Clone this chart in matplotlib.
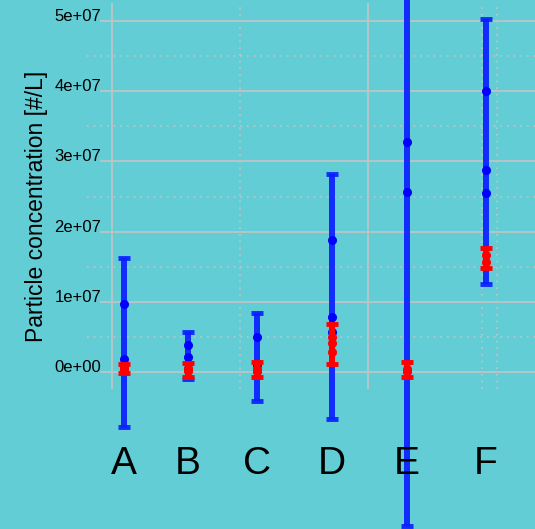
import numpy as np
import matplotlib
matplotlib.use("Agg")
import matplotlib.pyplot as plt

plt.rcParams['font.family'] = ['Liberation Sans', 'DejaVu Sans']

# ---------- datos ----------
categorias = ["A", "B", "C", "D", "E", "F"]

# barras azules: puntos individuales y extremos de la barra
azul_puntos = [[0.97e7, 0.185e7, 0.05e7],
               [0.38e7, 0.21e7, 0.05e7],
               [0.50e7, 0.10e7, 0.02e7],
               [1.88e7, 0.78e7, 0.57e7],
               [3.28e7, 2.56e7, 0.02e7],
               [4.00e7, 2.88e7, 2.55e7]]
azul_min = [-0.78e7, -0.10e7, -0.41e7, -0.67e7, -2.19e7, 1.25e7]
azul_max = [1.62e7, 0.57e7, 0.84e7, 2.82e7, 6.10e7, 5.03e7]

# barras rojas
rojo_puntos = [[0.07e7, 0.03e7],
               [0.06e7, 0.02e7],
               [0.05e7, 0.02e7],
               [0.50e7, 0.41e7, 0.28e7],
               [0.05e7, 0.02e7],
               [1.67e7, 1.57e7]]
rojo_min = [-0.02e7, -0.07e7, -0.07e7, 0.11e7, -0.07e7, 1.48e7]
rojo_max = [0.12e7, 0.13e7, 0.14e7, 0.68e7, 0.14e7, 1.77e7]

ticks_y = [0, 1e7, 2e7, 3e7, 4e7, 5e7]
ticks_y_lab = ["0e+00", "1e+07", "2e+07", "3e+07", "4e+07", "5e+07"]
ticks_y_menor = [0.5e7, 1.5e7, 2.5e7, 3.5e7, 4.5e7]

# posiciones horizontales (en pixeles del lienzo)
xpos = [124, 188, 257, 332, 407, 486]
grilla_x_solida = [112, 368]
grilla_x_punteada = [240, 482, 497]

FONDO = "#62cdd5"
GRIS = "#c4c4c4"
AZUL = "#0a1eff"

fig = plt.figure(figsize=[5.35, 5.29], dpi=100, facecolor=FONDO)
ax = fig.add_axes([0, 0, 1, 1])
ax.set_facecolor(FONDO)
ax.set_xlim(0, 535)
ax.set_ylim(-2.236e7, 5.299e7)
ax.axis("off")

# grilla
ax.hlines(ticks_y, 100, 535, color=GRIS, lw=1.2, zorder=1)
ax.hlines(ticks_y_menor, 87, 535, color=GRIS, lw=1.2, linestyles=(0, (1, 3)), zorder=1)
ax.vlines(grilla_x_solida, -0.24e7, 5.26e7, color=GRIS, lw=1.2, zorder=1)
ax.vlines(grilla_x_punteada, -0.24e7, 5.26e7, color=GRIS, lw=1.2, linestyles=(0, (1, 3)), zorder=1)

for v, lab in zip(ticks_y, ticks_y_lab):
    ax.text(101, v, lab, ha="right", va="baseline", fontsize=12, zorder=2)

for i in range(len(categorias)):
    x = xpos[i]
    # barra azul
    c = (azul_min[i] + azul_max[i]) / 2
    ax.errorbar([x], [c], yerr=[[c - azul_min[i]], [azul_max[i] - c]], fmt="none",
                ecolor=AZUL, elinewidth=4.3, capsize=4.3, capthick=3.5, alpha=0.92, zorder=3)
    ax.plot([x] * len(azul_puntos[i]), azul_puntos[i], "o", color="#0000ff", ms=5.5, zorder=4)
    # barra roja
    c = (rojo_min[i] + rojo_max[i]) / 2
    ax.errorbar([x], [c], yerr=[[c - rojo_min[i]], [rojo_max[i] - c]], fmt="none",
                ecolor="#ff0000", elinewidth=4.3, capsize=4.3, capthick=3.5, zorder=5)
    ax.plot([x] * len(rojo_puntos[i]), rojo_puntos[i], "o", color="#ff0000", ms=5.5, zorder=6)
    ax.text(x, -1.453e7, categorias[i], ha="center", va="baseline", fontsize=28, zorder=7)

ax.text(37, 2.365e7, "Particle concentration [#/L]", rotation=90, ha="center", va="center",
        fontsize=16.5)

plt.savefig("out.png", dpi=100, facecolor=FONDO)
